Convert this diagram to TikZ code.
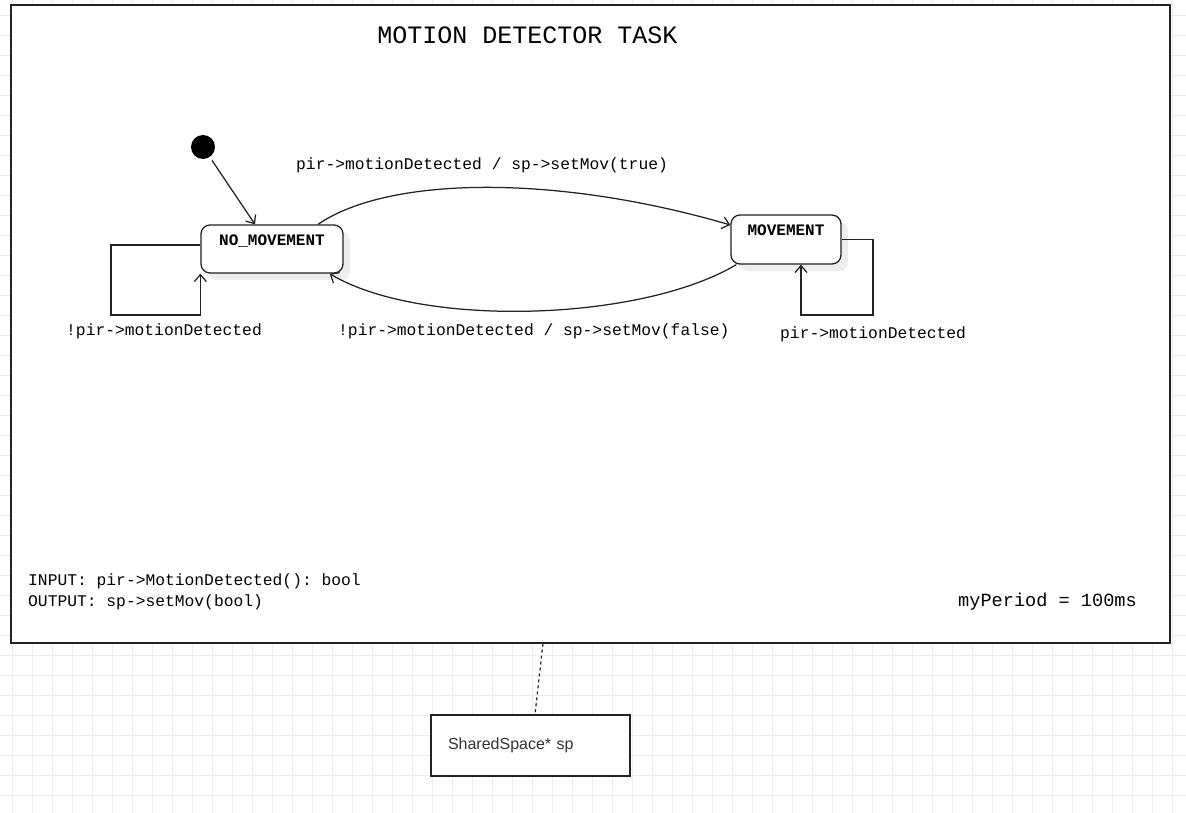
\documentclass[tikz,border=0pt]{standalone}
\usepackage{fontspec}
\setmainfont{Liberation Sans}
\setmonofont{Liberation Mono}
\usepackage{tikz}
\usetikzlibrary{arrows.meta,shapes,positioning,shadows}
\definecolor{gridgray}{RGB}{236,236,236}
\definecolor{linegray}{RGB}{35,35,35}
\definecolor{shadowgray}{RGB}{237,237,237}
\tikzstyle{arrow} = [line width=1.25pt,->,>={Straight Barb[length=7pt,width=12pt]},color=linegray]
\tikzstyle{state} = [draw=linegray, line width=1.3pt, rounded corners=9pt, fill=white, inner sep=3pt,
  font=\ttfamily\bfseries\fontsize{16}{19}\selectfont, text height=17.5pt, text depth=24.5pt,
  drop shadow={shadow xshift=7pt, shadow yshift=-7pt, fill=shadowgray, opacity=1}]
\tikzstyle{lbl} = [font=\ttfamily\fontsize{16.3}{19}\selectfont, inner sep=0pt, anchor=base west]

\begin{document}
\begin{tikzpicture}[x=1pt, y=-1pt]
\useasboundingbox (0,0) rectangle (1186,813);
% background grid
\foreach \x in {12,32,...,1172} \draw[gridgray, line width=0.8pt] (\x,0) -- (\x,813);
\foreach \y in {15,35,...,795} \draw[gridgray, line width=0.8pt] (0,\y) -- (1186,\y);

% task frame
\node[draw=linegray, line width=1.3pt, fill=white, minimum width=1159pt, minimum height=638pt, inner sep=0pt] (task) at (590.5,324) {};
\node[font=\ttfamily\fontsize{25}{30}\selectfont, inner sep=0pt, anchor=base] (title) at (527.5,44) {MOTION DETECTOR TASK};

% states
\node[circle, fill=black, minimum size=24pt, inner sep=0pt] (init) at (203,147) {};
\node[state, minimum width=142pt] (nomov) at (272,249) {NO\_MOVEMENT};
\node[state, minimum width=110pt, minimum height=49pt] (mov) at (786,239.5) {MOVEMENT};

\draw[arrow, shorten <=4pt] (init) -- ([xshift=-17pt]nomov.north);
\draw[arrow] ([xshift=46pt]nomov.north) .. controls (390,175) and (560,175) .. ([yshift=14.5pt]mov.west);
\draw[arrow] ([xshift=6pt]mov.south west) .. controls (640,322) and (420,328) .. ([xshift=-14pt]nomov.south east);
\draw[arrow] ([yshift=4pt]nomov.west) -| (111,315) -| (nomov.south west);
\draw[arrow] (mov.east) -| (873,315) -| ([xshift=15pt]mov.south);

% transition labels
\node[lbl] (lmove) at (296,170) {pir->motionDetected / sp->setMov(true)};
\node[lbl] (lstop) at (338,335) {!pir->motionDetected / sp->setMov(false)};
\node[lbl] (lstay) at (66,335) {!pir->motionDetected};
\node[lbl] (lkeep) at (780,338) {pir->motionDetected};

% interface
\node[lbl] (input) at (28,585) {INPUT: pir->MotionDetected(): bool};
\node[lbl] (output) at (28,606) {OUTPUT: sp->setMov(bool)};
\node[lbl, anchor=base east, font=\ttfamily\fontsize{18.6}{22}\selectfont] (period) at (1137,606) {myPeriod = 100ms};

% shared space
\node[draw=linegray, line width=1.3pt, fill=white, minimum width=199pt, minimum height=61pt,
  inner xsep=17pt, text width=165pt, align=left, font=\fontsize{16}{19}\selectfont, text=black!80] (shared) at (530.5,745.5) {SharedSpace* sp};
\draw[linegray, line width=1.2pt, dashed] ([xshift=-47.5pt]task.south) -- ([xshift=4.5pt]shared.north);
\end{tikzpicture}
\end{document}
